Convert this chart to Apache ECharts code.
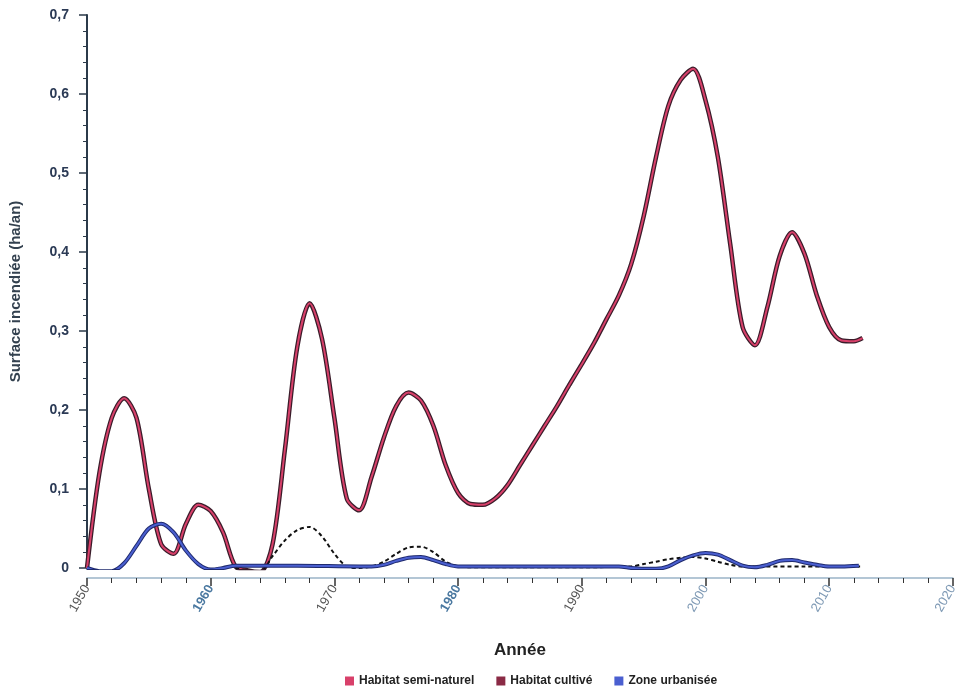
<!DOCTYPE html>
<html>
<head>
<meta charset="utf-8">
<script src="https://cdn.jsdelivr.net/npm/echarts@6/dist/echarts.min.js"></script>
<style>
  html, body { margin: 0; padding: 0; background: #ffffff; }
  #chart { width: 960px; height: 696px; }
</style>
</head>
<body>
<div id="chart"></div>
<script>
// séries : [année, valeur]
var seminaturel = [
  [1950, 0], [1951, 0.12], [1952, 0.19], [1953, 0.215], [1954, 0.19], [1955, 0.10],
  [1956, 0.03], [1957, 0.018], [1958, 0.056], [1959, 0.08], [1960, 0.072],
  [1961, 0.045], [1962, 0.002], [1963, -0.003], [1964, -0.005], [1965, 0.03],
  [1966, 0.15], [1967, 0.28], [1968, 0.335], [1969, 0.29], [1970, 0.19],
  [1971, 0.088], [1972, 0.073], [1973, 0.115], [1974, 0.165], [1975, 0.205],
  [1976, 0.222], [1977, 0.212], [1978, 0.18], [1979, 0.13], [1980, 0.095],
  [1981, 0.081], [1982, 0.08], [1983, 0.088], [1984, 0.105], [1985, 0.13],
  [1986, 0.155], [1987, 0.18], [1988, 0.205], [1989, 0.232], [1990, 0.258],
  [1991, 0.285], [1992, 0.315], [1993, 0.345], [1994, 0.385], [1995, 0.445],
  [1996, 0.52], [1997, 0.585], [1998, 0.618], [1999, 0.632], [2000, 0.592],
  [2001, 0.52], [2002, 0.41], [2003, 0.305], [2004, 0.282], [2005, 0.33],
  [2006, 0.395], [2007, 0.425], [2008, 0.398], [2009, 0.345], [2010, 0.305],
  [2011, 0.288], [2012, 0.287], [2012.7, 0.291]
];
var cultive = [
  [1962, 0], [1963, -0.003], [1964, -0.004], [1965, 0.015], [1966, 0.035],
  [1967, 0.048], [1968, 0.052], [1969, 0.04], [1970, 0.018], [1971, 0.002],
  [1972, 0], [1973, 0.002], [1974, 0.008], [1975, 0.018], [1976, 0.026],
  [1977, 0.027], [1978, 0.02], [1979, 0.008], [1980, 0.002], [1981, 0.001],
  [1985, 0.001], [1990, 0.001], [1994, 0.002], [1995, 0.005], [1996, 0.008],
  [1997, 0.011], [1998, 0.013], [1999, 0.014], [2000, 0.012], [2001, 0.008],
  [2002, 0.004], [2003, 0.002], [2004, 0.002], [2008, 0.002], [2012.5, 0.002]
];
var urbain = [
  [1950, 0], [1951, -0.004], [1952, -0.004], [1953, 0.006], [1954, 0.028],
  [1955, 0.05], [1956, 0.056], [1957, 0.045], [1958, 0.022], [1959, 0.005],
  [1960, -0.002], [1961, 0], [1962, 0.003], [1967, 0.003], [1972, 0.002],
  [1973, 0.002], [1974, 0.004], [1975, 0.009], [1976, 0.013], [1977, 0.014],
  [1978, 0.01], [1979, 0.005], [1980, 0.002], [1985, 0.002], [1990, 0.002],
  [1993, 0.002], [1994, 0], [1995, -0.001], [1996, -0.001], [1997, 0.002],
  [1998, 0.01], [1999, 0.016], [2000, 0.019], [2001, 0.017], [2002, 0.01],
  [2003, 0.003], [2004, 0.001], [2005, 0.004], [2006, 0.009], [2007, 0.01],
  [2008, 0.007], [2009, 0.004], [2010, 0.002], [2011, 0.002], [2012.4, 0.003]
];
var noms = ["Habitat semi-naturel", "Habitat cultivé", "Zone urbanisée"];
var anneesBleues = [1960, 1980];
var anneesClaires = [2000, 2010, 2020];

var lissage = 0.3;

var chart = echarts.init(document.getElementById("chart"));

var option = {
  backgroundColor: "#ffffff",
  animation: false,
  grid: { left: 86, right: 6, top: 15, bottom: 128 },
  legend: {
    data: noms,
    bottom: 4,
    left: 340,
    icon: "rect",
    itemWidth: 9,
    itemHeight: 9,
    itemGap: 22,
    textStyle: { color: "#222", fontSize: 12, fontWeight: "bold", fontFamily: "Liberation Sans" }
  },
  xAxis: {
    type: "value",
    min: 1950,
    max: 2020,
    interval: 10,
    offset: 10,
    name: "Année",
    nameLocation: "middle",
    nameGap: 64,
    nameTextStyle: { color: "#222", fontSize: 17, fontWeight: "bold", fontFamily: "Liberation Sans" },
    axisLine: { onZero: false, lineStyle: { color: "#9ab4c8", width: 1.5 } },
    axisTick: { show: true, length: 8, lineStyle: { color: "#333", width: 1.5 } },
    minorTick: { show: true, splitNumber: 5, length: 5, lineStyle: { color: "#333" } },
    splitLine: { show: false },
    axisLabel: {
      rotate: 60,
      margin: 8,
      fontSize: 13,
      fontFamily: "Liberation Sans",
      formatter: function (v) {
        if (anneesBleues.indexOf(v) >= 0) return "{b|" + v + "}";
        if (anneesClaires.indexOf(v) >= 0) return "{c|" + v + "}";
        return "{a|" + v + "}";
      },
      rich: {
        a: { color: "#555", fontSize: 13 },
        b: { color: "#4a78a0", fontSize: 13, fontWeight: "bold" },
        c: { color: "#7f9ab5", fontSize: 13 }
      }
    }
  },
  yAxis: {
    type: "value",
    min: 0,
    max: 0.7,
    interval: 0.1,
    name: "Surface incendiée (ha/an)",
    nameLocation: "middle",
    nameGap: 64,
    nameTextStyle: { color: "#33414f", fontSize: 15, fontWeight: "bold", fontFamily: "Liberation Sans" },
    axisLine: { show: true, lineStyle: { color: "#2b3a4a", width: 2 } },
    axisTick: { show: true, length: 8, lineStyle: { color: "#2b3a4a", width: 1.5 } },
    minorTick: { show: true, splitNumber: 5, length: 4, lineStyle: { color: "#2b3a4a" } },
    splitLine: { show: false },
    axisLabel: {
      color: "#2b3a55",
      fontSize: 14,
      fontWeight: "bold",
      margin: 18,
      fontFamily: "Liberation Sans",
      formatter: function (v) {
        return v === 0 ? "0" : v.toFixed(1).replace(".", ",");
      }
    }
  },
  series: [
    {
      name: "contour1",
      type: "line",
      data: seminaturel,
      smooth: lissage,
      showSymbol: false,
      silent: true,
      lineStyle: { color: "#3a1c2a", width: 4.5 },
      itemStyle: { color: "#3a1c2a" }
    },
    {
      name: noms[0],
      type: "line",
      data: seminaturel,
      smooth: lissage,
      showSymbol: false,
      lineStyle: { color: "#d8406a", width: 2 },
      itemStyle: { color: "#d8406a" }
    },
    {
      name: noms[1],
      type: "line",
      data: cultive,
      smooth: lissage,
      showSymbol: false,
      lineStyle: { color: "#111", width: 2, type: [4, 3] },
      itemStyle: { color: "#8a2a45" }
    },
    {
      name: "contour3",
      type: "line",
      data: urbain,
      smooth: lissage,
      showSymbol: false,
      silent: true,
      lineStyle: { color: "#1f2a6e", width: 4 },
      itemStyle: { color: "#1f2a6e" }
    },
    {
      name: noms[2],
      type: "line",
      data: urbain,
      smooth: lissage,
      showSymbol: false,
      lineStyle: { color: "#4a5fd0", width: 2 },
      itemStyle: { color: "#4a5fd0" }
    }
  ]
};

chart.setOption(option);
</script>
</body>
</html>
